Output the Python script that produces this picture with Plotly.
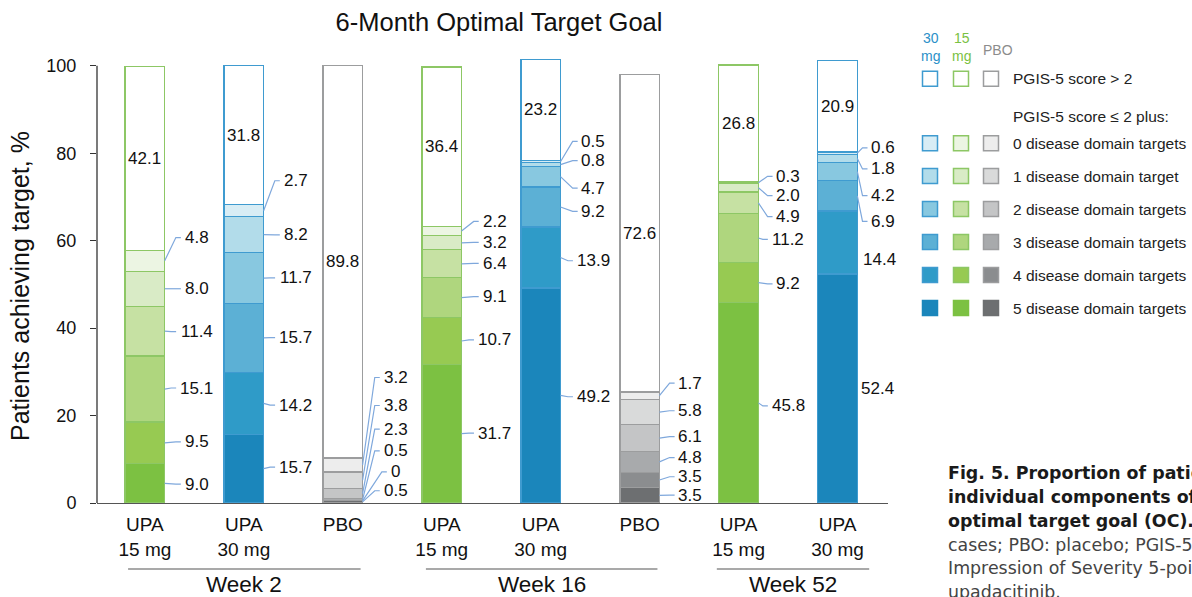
import plotly.graph_objects as go

# ---- data -------------------------------------------------------------
categories = ["UPA<br>15 mg", "UPA<br>30 mg", "PBO",
              "UPA<br>15 mg", "UPA<br>30 mg", "PBO",
              "UPA<br>15 mg", "UPA<br>30 mg"]
arms = ["15", "30", "PBO", "15", "30", "PBO", "15", "30"]
weeks = ["Week 2", "Week 16", "Week 52"]

# percentage of patients per category, stacked bottom -> top
targets_5 = [9.0, 15.7, 0.5, 31.7, 49.2, 3.5, 45.8, 52.4]
targets_4 = [9.5, 14.2, 0, 10.7, 13.9, 3.5, 9.2, 14.4]
targets_3 = [15.1, 15.7, 0.5, 9.1, 9.2, 4.8, 11.2, 6.9]
targets_2 = [11.4, 11.7, 2.3, 6.4, 4.7, 6.1, 4.9, 4.2]
targets_1 = [8.0, 8.2, 3.8, 3.2, 0.8, 5.8, 2.0, 1.8]
targets_0 = [4.8, 2.7, 3.2, 2.2, 0.5, 1.7, 0.3, 0.6]
pgis_gt2 = [42.1, 31.8, 89.8, 36.4, 23.2, 72.6, 26.8, 20.9]

series = [targets_5, targets_4, targets_3, targets_2, targets_1, targets_0, pgis_gt2]
legend_rows = ["5 disease domain targets", "4 disease domain targets",
               "3 disease domain targets", "2 disease domain targets",
               "1 disease domain target", "0 disease domain targets"]

# ---- styling ----------------------------------------------------------
FONT = "Liberation Sans, Arial, sans-serif"
palette = {
    "15": ["#7cc142", "#97ca52", "#afd67e", "#c6e1a3", "#d9ebc6", "#ecf5e3", "#ffffff"],
    "30": ["#1b86bb", "#2f9bc8", "#5cb0d5", "#88c8e0", "#b2dcea", "#d8edf5", "#ffffff"],
    "PBO": ["#6d6f71", "#8b8d8f", "#a8aaac", "#c4c5c6", "#d9dada", "#ededed", "#ffffff"],
}
outline = {"15": "#8dc765", "30": "#3f9bd0", "PBO": "#9c9d9e"}
leader_color = "#7fa8dc"

W, H = 1192, 597
ML, MR, MT, MB = 97, 304, 57, 94
X_RANGE = [-0.484, 7.51]
Y_RANGE = [0, 102]
BAR_W = 0.4
px_per_x = (W - ML - MR) / (X_RANGE[1] - X_RANGE[0])


def paper_x(px):
    return (px - ML) / (W - ML - MR)


def paper_y(py):
    return (H - MB - py) / (H - MT - MB)


# label heights (%) for the six leader labels of each bar, bottom -> top
label_y = [
    [4.3, 14.0, 26.3, 39.2, 49.0, 60.7],
    [8.2, 22.4, 37.8, 51.5, 61.3, 73.7],
    [2.8, 7.1, 11.9, 16.9, 22.3, 28.7],
    [16.0, 37.3, 47.2, 54.8, 59.6, 64.4],
    [24.3, 55.4, 66.7, 72.0, 78.3, 82.7],
    [1.8, 6.0, 10.4, 15.2, 21.1, 27.4],
    [22.2, 50.1, 60.3, 65.5, 70.3, 74.7],
    [26.1, 55.6, 64.4, 70.3, 76.4, 81.2],
]
# horizontal offset (px) of the label centre from the bar's right edge
label_dx = [32, 32, 33, 33, 33, 31, 30, 26]
# labels drawn without a leader line: (bar, segment) -> offset
no_leader = {(7, 0): 20, (7, 1): 22}

xpos = list(range(len(categories)))

fig = go.Figure()
for s, vals in enumerate(series):
    fig.add_trace(go.Bar(
        x=xpos, y=vals, width=BAR_W,
        marker=dict(color=[palette[a][s] for a in arms],
                    line=dict(color=[outline[a] for a in arms], width=1.3)),
        hoverinfo="skip", showlegend=False,
    ))

annotations = []
shapes = []


def fmt(v):
    return "0" if v == 0 else f"{v:.1f}"


def text_w(t, size=17):
    return sum((0.278 if c == "." else 0.556) * size for c in t)


for i in xpos:
    base = 0.0
    edge = i + BAR_W / 2
    for s in range(6):
        v = series[s][i]
        mid = base + v / 2
        base += v
        t = fmt(v)
        ly = label_y[i][s]
        if (i, s) in no_leader:
            cx = no_leader[(i, s)]
        else:
            cx = label_dx[i]
            start = cx - text_w(t) / 2
            end = start - 4
            elbow = end - 5
            shapes.append(dict(
                type="path", xref="x", yref="y",
                path=f"M {edge},{mid} L {edge + elbow / px_per_x},{ly} L {edge + end / px_per_x},{ly}",
                line=dict(color=leader_color, width=1.2)))
        annotations.append(dict(
            x=edge + cx / px_per_x, y=ly, xref="x", yref="y", text=t,
            showarrow=False, xanchor="center", yanchor="middle",
            font=dict(family=FONT, size=17, color="#111")))
    # top (PGIS-5 > 2) value inside the white segment
    v = series[6][i]
    annotations.append(dict(
        x=i, y=base + v / 2, xref="x", yref="y", text=fmt(v),
        showarrow=False, xanchor="center", yanchor="middle",
        font=dict(family=FONT, size=17, color="#111")))

# y axis line up to 100 %
shapes.append(dict(type="line", xref="paper", yref="y", x0=0, x1=0, y0=0, y1=100,
                   line=dict(color="#333", width=1.3)))

# week group captions with underline
group_span = [(-0.17, 2.18), (2.84, 5.18), (5.78, 7.32)]
for wk, (a, b) in zip(weeks, group_span):
    shapes.append(dict(type="line", xref="x", yref="paper", x0=a, x1=b,
                       y0=paper_y(569), y1=paper_y(569),
                       line=dict(color="#555", width=1.2)))
    annotations.append(dict(x=(a + b) / 2, y=paper_y(584), xref="x", yref="paper",
                            text=wk, showarrow=False, xanchor="center", yanchor="middle",
                            font=dict(family=FONT, size=22.5, color="#111")))

# y axis title
annotations.append(dict(x=paper_x(20), y=paper_y(286), xref="paper", yref="paper",
                        text="Patients achieving target, %", textangle=-90,
                        showarrow=False, xanchor="center", yanchor="middle",
                        font=dict(family=FONT, size=25, color="#111")))

# ---- legend -----------------------------------------------------------
col_x = {"30": 930, "15": 961, "PBO": 991}
head_color = {"30": "#2b90c8", "15": "#7ac143", "PBO": "#8c8c8c"}
annotations.append(dict(x=paper_x(930), y=paper_y(47), xref="paper", yref="paper",
                        text="30<br>mg", showarrow=False, xanchor="center", yanchor="middle",
                        font=dict(family=FONT, size=14, color=head_color["30"])))
annotations.append(dict(x=paper_x(961.5), y=paper_y(47), xref="paper", yref="paper",
                        text="15<br>mg", showarrow=False, xanchor="center", yanchor="middle",
                        font=dict(family=FONT, size=14, color=head_color["15"])))
annotations.append(dict(x=paper_x(998), y=paper_y(50), xref="paper", yref="paper",
                        text="PBO", showarrow=False, xanchor="center", yanchor="middle",
                        font=dict(family=FONT, size=14, color=head_color["PBO"])))

SQ = 15
row_y = [78.8, 143.3, 176, 209, 242, 275, 308]
row_text = ["PGIS-5 score > 2"] + legend_rows[::-1]
row_idx = [6, 5, 4, 3, 2, 1, 0]
for ry, txt, idx in zip(row_y, row_text, row_idx):
    for a in ("30", "15", "PBO"):
        cx = col_x[a]
        fill = palette[a][idx]
        line_c = outline[a] if idx > 0 else fill
        shapes.append(dict(type="rect", xref="paper", yref="paper",
                           x0=paper_x(cx - SQ / 2), x1=paper_x(cx + SQ / 2),
                           y0=paper_y(ry + SQ / 2), y1=paper_y(ry - SQ / 2),
                           fillcolor=fill, line=dict(color=line_c, width=1.5)))
    annotations.append(dict(x=paper_x(1011), y=paper_y(ry), xref="paper", yref="paper",
                            text=txt, showarrow=False, xanchor="left", yanchor="middle",
                            font=dict(family=FONT, size=15.5, color="#222")))
annotations.append(dict(x=paper_x(1011), y=paper_y(116), xref="paper", yref="paper",
                        text="PGIS-5 score ≤ 2 plus:", showarrow=False,
                        xanchor="left", yanchor="middle",
                        font=dict(family=FONT, size=15.5, color="#222")))

# ---- figure caption ---------------------------------------------------
CAP_FONT = "DejaVu Sans, Verdana, sans-serif"
caption = [
    ("<b>Fig. 5. Proportion of patients achieving the</b>", "#1a1a1a", 473),
    ("<b>individual components of the</b>", "#1a1a1a", 497),
    ("<b>optimal target goal (OC).</b> OC: observed", "#1a1a1a", 521),
    ("cases; PBO: placebo; PGIS-5: Patient Global", "#444", 545),
    ("Impression of Severity 5-point scale; UPA:", "#444", 568),
    ("upadacitinib.", "#444", 592),
]
for txt, col, yy in caption:
    annotations.append(dict(x=paper_x(946), y=paper_y(yy), xref="paper", yref="paper",
                            text=txt, showarrow=False, xanchor="left", yanchor="middle",
                            font=dict(family=CAP_FONT, size=17.4, color=col)))

fig.update_layout(
    width=W, height=H,
    margin=dict(l=ML, r=MR, t=MT, b=MB),
    barmode="stack",
    plot_bgcolor="white", paper_bgcolor="white",
    showlegend=False,
    font=dict(family=FONT, color="#111"),
    title=dict(text="6-Month Optimal Target Goal", x=499 / W, y=1 - 22 / H,
               xanchor="center", yanchor="middle",
               font=dict(family=FONT, size=25.5, color="#111")),
    xaxis=dict(range=X_RANGE, tickvals=xpos, ticktext=categories,
               showline=True, linecolor="#555", linewidth=1.3,
               ticks="", showgrid=False, zeroline=False,
               ticklabelstandoff=4,
               tickfont=dict(family=FONT, size=19, color="#111")),
    yaxis=dict(range=Y_RANGE, tickvals=[0, 20, 40, 60, 80, 100],
               ticks="outside", ticklen=6, tickcolor="#333", tickwidth=1.3,
               showline=False, showgrid=False, zeroline=False,
               ticklabelstandoff=10,
               tickfont=dict(family=FONT, size=18, color="#111")),
    shapes=shapes,
    annotations=annotations,
)

fig.write_html("out.html")
